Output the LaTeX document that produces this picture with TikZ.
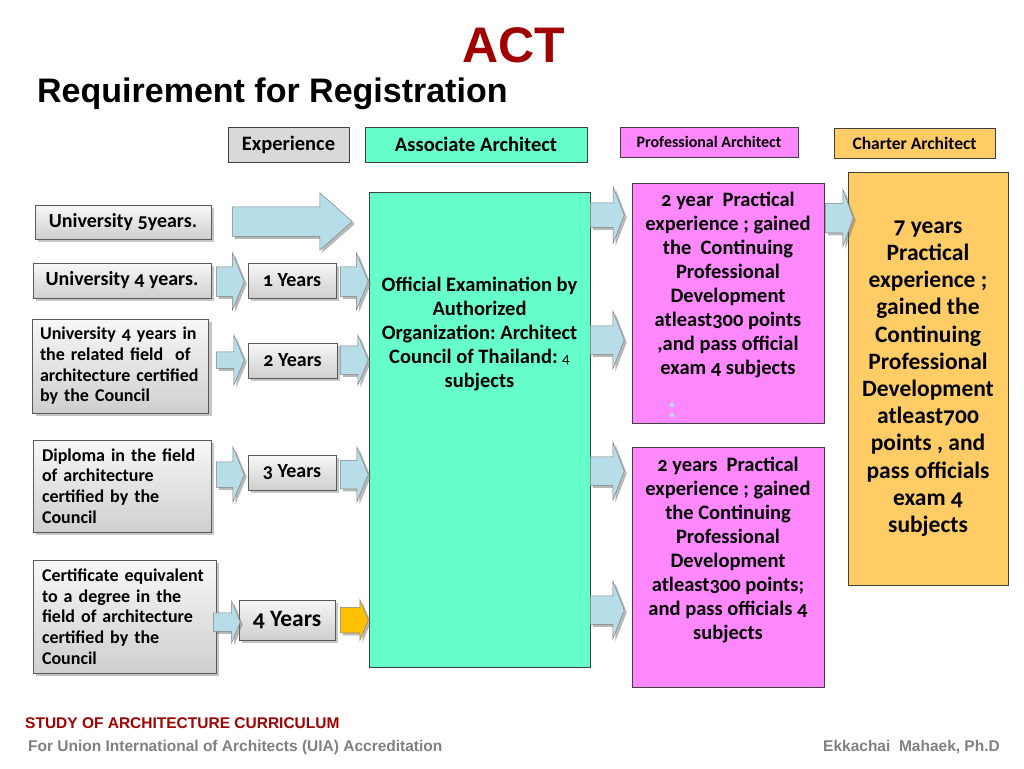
\documentclass[tikz,border=0pt]{standalone}
\usepackage{fontspec}
\setmainfont{Carlito}[Numbers=OldStyle]
\newfontfamily\arialfont{Liberation Sans}
\usetikzlibrary{shapes.arrows, shadows, positioning}

\definecolor{actred}{HTML}{A00000}
\definecolor{assocgreen}{HTML}{66FFCC}
\definecolor{profpink}{HTML}{FF88FF}
\definecolor{charterorange}{HTML}{FFCC66}
\definecolor{arrowblue}{HTML}{B7DEE8}
\definecolor{arroworange}{HTML}{FFC000}
\definecolor{footgray}{HTML}{808080}

\newcommand{\fs}[2]{\fontsize{#1}{#2}\selectfont}

\begin{document}
\frenchspacing
\begin{tikzpicture}[
    x=1pt, y=-1pt,
    header/.style={rectangle, draw=black!75, line width=0.8pt, align=center, inner sep=0pt, font=\bfseries\fs{20.5}{24}},
    route/.style={rectangle, draw=black!65, line width=0.8pt, top color=gray!6, bottom color=gray!38,
        drop shadow={shadow xshift=3pt, shadow yshift=-3pt, fill=black!45},
        inner sep=0pt, inner xsep=9pt, align=left, font=\bfseries\fs{18}{20.7}},
    single/.style={font=\bfseries\fs{20}{23}},
    stage/.style={rectangle, draw=black!75, line width=0.8pt, inner sep=0pt},
    stagetext/.style={align=center, inner sep=0pt, font=\bfseries\fs{20.5}{24}},
    barrow/.style 2 args={single arrow, draw=black!50, line width=0.5pt, fill=arrowblue,
        inner xsep=0pt, inner ysep=#2/2, anchor=tail, minimum height=28, minimum width=#1,
        single arrow head extend={(#1-#2)/2}, single arrow tip angle=135,
        drop shadow={shadow xshift=2.5pt, shadow yshift=-2.5pt, fill=black!55}},
]
\useasboundingbox[fill=white] (0,0) rectangle (1024,768);

% title
\node[font=\arialfont\bfseries\fs{50}{60}, text=actred, anchor=base, inner sep=0pt] (act) at (514,63) {ACT};
\node[font=\arialfont\bfseries\fs{34}{40}, anchor=base west, inner sep=0pt] (req) at (37,102) {Requirement for Registration};

% column headers
\node[header, fill=gray!30, minimum width=121, minimum height=35] (hexp) at (288.5,144.5) {Experience};
\node[header, fill=assocgreen, minimum width=222, minimum height=35] (hassoc) at (476,144.5) {Associate Architect};
\node[header, fill=profpink, minimum width=178, minimum height=30, font=\bfseries\fs{16}{18}] (hprof) at (709,142) {Professional Architect};
\node[header, fill=charterorange, minimum width=161, minimum height=30, font=\bfseries\fs{17.5}{19}] (hchart) at (914.5,143) {Charter Architect};

% education routes
\node[route, single, minimum width=176, minimum height=34] (uni5) at (123,222) {University 5years.};
\node[route, single, minimum width=178, minimum height=35] (uni4) at (122,280.5) {University 4 years.};
\node[route, inner xsep=7.5pt, text width=161, minimum height=94] (unirel) at (120.5,366) {University 4 years in\\the related field\ \ of\\architecture certified\\by the Council};
\node[route, text width=160, minimum height=92] (diploma) at (122,486) {Diploma in the field\\of architecture\\certified by the\\Council};
\node[route, text width=165, minimum height=113] (cert) at (124.5,616.5) {Certificate equivalent\\to a degree in the\\field of architecture\\certified by the\\Council};

% experience years
\node[route, single, align=center, minimum width=88, minimum height=35] (year1) at (292,280.5) {1 Years};
\node[route, single, align=center, minimum width=89, minimum height=35] (year2) at (292.5,360.5) {2 Years};
\node[route, single, align=center, minimum width=88, minimum height=35] (year3) at (292,472.5) {3 Years};
\node[route, align=center, minimum width=96, minimum height=40, font=\bfseries\fs{23.5}{27}] (year4) at (287,620) {4 Years};

% stages
\node[stage, fill=assocgreen, minimum width=221, minimum height=475] (assoc) at (479.5,429.5) {};
\node[stagetext, below=85pt of assoc.north] (assocText) {Official Examination by\\Authorized\\Organization: Architect\\Council of Thailand: {\mdseries\fs{15}{24}4}\\subjects};
\node[stage, fill=profpink, minimum width=192, minimum height=240] (prof1) at (728,303) {};
\node[stagetext, below=9pt of prof1.north] (prof1Text) {2 year\ \ Practical\\experience ; gained\\the\ \ Continuing\\Professional\\Development\\atleast300 points\\,and pass official\\exam 4 subjects};
\node[text=arrowblue, font=\bfseries\fs{30}{32}] (dots) at (672,411) {:};
\node[stage, fill=profpink, minimum width=192, minimum height=240] (prof2) at (728,567) {};
\node[stagetext, below=10pt of prof2.north] (prof2Text) {2 years\ \ Practical\\experience ; gained\\the Continuing\\Professional\\Development\\atleast300 points;\\and pass officials 4\\subjects};
\node[stage, fill=charterorange, minimum width=160, minimum height=413] (chart) at (928,378.5) {};
\node[stagetext, font=\bfseries\fs{23.5}{27.2}] (chartText) at (chart.center) {7 years\\Practical\\experience ;\\gained the\\Continuing\\Professional\\Development\\atleast700\\points , and\\pass officials\\exam 4\\subjects};

% block arrows
\node[barrow={57}{29}, minimum height=120, single arrow tip angle=83] (a0) at (232,221.5) {};
\node[barrow={57}{29}] (a1l) at (216,281.5) {};
\node[barrow={50}{16}] (a2l) at (216,360) {};
\node[barrow={55}{25}] (a3l) at (216,474.5) {};
\node[barrow={41}{18}, minimum height=27] (a4l) at (213,622) {};
\node[barrow={57}{29}] (a1r) at (340,281.5) {};
\node[barrow={50}{28}] (a2r) at (340,360) {};
\node[barrow={55}{28}] (a3r) at (340,474.5) {};
\node[barrow={40}{25}, fill=arroworange] (a4r) at (340,620) {};
\node[barrow={56}{24}, minimum height=34, single arrow tip angle=137] (p1) at (590,215) {};
\node[barrow={57}{28}, minimum height=34, single arrow tip angle=137] (p2) at (590,340) {};
\node[barrow={57}{28}, minimum height=34, single arrow tip angle=137] (p3) at (590,471) {};
\node[barrow={57}{28}, minimum height=34, single arrow tip angle=137] (p4) at (590,610) {};
\node[barrow={57}{29}, single arrow tip angle=140] (c1) at (825,218) {};

% footer
\node[anchor=base west, inner sep=0pt, text=actred, font=\arialfont\bfseries\fs{15.5}{17}] (foot1) at (25,728) {STUDY OF ARCHITECTURE CURRICULUM};
\node[anchor=base west, inner sep=0pt, text=footgray, font=\arialfont\bfseries\fs{15.5}{17}] (foot2) at (28,751) {For Union International of Architects (UIA) Accreditation};
\node[anchor=base east, inner sep=0pt, text=footgray, font=\arialfont\bfseries\fs{15.5}{17}] (foot3) at (1000,751) {Ekkachai\ \ Mahaek, Ph.D};

\end{tikzpicture}
\end{document}
